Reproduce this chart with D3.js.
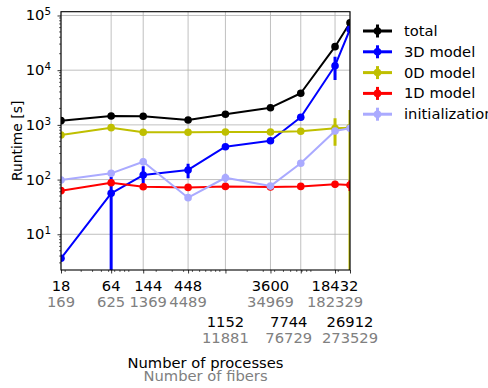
<!DOCTYPE html>
<html>
<head>
<meta charset="utf-8">
<script src="https://cdn.jsdelivr.net/npm/d3@7"></script>
<style>
  html, body { margin: 0; padding: 0; background: #fff; }
  svg { display: block; font-family: "DejaVu Sans", sans-serif; }
</style>
</head>
<body>
<svg id="chart" width="488" height="388"></svg>
<script>
// Scaling study: number of processes (and fibers) vs. runtime per component
const processes = [18, 64, 144, 448, 1152, 3600, 7744, 18432, 26912];
const fibers = [169, 625, 1369, 4489, 11881, 34969, 76729, 182329, 273529];
// tick labels that go on the lower second row
const lowerRow = [1152, 7744, 26912];

const seriesNames = ["total", "3D model", "0D model", "1D model", "initialization"];
const seriesColors = ["#000000", "#0000ff", "#bfbf00", "#ff0000", "#aaaaff"];

const totalValues = [1194, 1456, 1440, 1230, 1563, 2060, 3785, 26900, 73800];
const totalErr    = [0, 0, 0, 0, 0, 0, 0, 0, 0];
const model3dValues = [3.64, 56, 121, 150, 399, 514, 1377, 12080, 56000];
const model3dErr    = [0, 57, 55, 44, 0, 0, 0, 5500, 0];
const model0dValues = [653, 889, 733, 733, 741, 741, 764, 867, 889];
const model0dErr    = [0, 0, 0, 0, 0, 0, 0, 450, 980];
const model1dValues = [62.7, 87.7, 74, 72, 75, 73, 75, 82, 79.6];
const model1dErr    = [0, 0, 0, 0, 0, 0, 0, 10, 18];
const initValues = [98, 130, 212, 46.7, 108, 76, 199, 773, 867];
const initErr    = [0, 0, 30, 0, 20, 0, 0, 0, 0];

const seriesValues = [totalValues, model3dValues, model0dValues, model1dValues, initValues];
const seriesErrors = [totalErr, model3dErr, model0dErr, model1dErr, initErr];

const yTickValues = [1e1, 1e2, 1e3, 1e4, 1e5];

const svg = d3.select("#chart");
const plotLeft = 61, plotRight = 350, plotTop = 11.7, plotBottom = 270;
const fontSize = 13.9;
const stretchX = 1.06;  // text is set slightly wide
// small horizontal shifts that keep crowded tick labels apart
const labelNudge = { 144: 5, 7744: -12 };

function addText(px, py, str, anchor, color, rotate) {
  const rot = rotate ? ` rotate(${rotate})` : "";
  const sc = rotate ? `scale(1,${stretchX})` : `scale(${stretchX},1)`;
  return svg.append("text")
    .attr("transform", `translate(${px},${py})${rot} ${sc}`)
    .attr("text-anchor", anchor).attr("font-size", fontSize).attr("fill", color)
    .text(str);
}

const x = d3.scaleLog().domain([18, 26912]).range([plotLeft, plotRight]);
const y = d3.scaleLog().domain([Math.pow(10, 0.347), Math.pow(10, 5.069)]).range([plotBottom, plotTop]);

svg.append("defs").append("clipPath").attr("id", "plotClip")
  .append("rect").attr("x", plotLeft).attr("y", plotTop)
  .attr("width", plotRight - plotLeft).attr("height", plotBottom - plotTop);

// grid
const grid = svg.append("g").attr("stroke", "#b0b0b0").attr("stroke-width", 0.8);
processes.forEach(p => {
  grid.append("line").attr("x1", x(p)).attr("x2", x(p)).attr("y1", plotTop).attr("y2", plotBottom);
});
yTickValues.forEach(v => {
  grid.append("line").attr("x1", plotLeft).attr("x2", plotRight).attr("y1", y(v)).attr("y2", y(v));
});

// series: error bars, lines, markers
const plot = svg.append("g").attr("clip-path", "url(#plotClip)");
const line = d3.line().x((d, i) => x(processes[i])).y(d => y(d));
seriesValues.forEach((vals, si) => {
  const color = seriesColors[si];
  const errs = seriesErrors[si];
  const g = plot.append("g");
  vals.forEach((v, i) => {
    const e = errs[i];
    if (!e) return;
    const lo = v - e;
    const y1 = lo > 0 ? y(lo) : plotBottom + 5;
    g.append("line")
      .attr("x1", x(processes[i])).attr("x2", x(processes[i]))
      .attr("y1", y1).attr("y2", y(v + e))
      .attr("stroke", color).attr("stroke-width", 3);
  });
  g.append("path").datum(vals).attr("d", line)
    .attr("fill", "none").attr("stroke", color).attr("stroke-width", 2)
    .attr("stroke-linejoin", "round");
  g.selectAll("circle").data(vals).join("circle")
    .attr("cx", (d, i) => x(processes[i])).attr("cy", d => y(d))
    .attr("r", 3.8).attr("fill", color);
});

// spines
svg.append("rect").attr("x", plotLeft).attr("y", plotTop)
  .attr("width", plotRight - plotLeft).attr("height", plotBottom - plotTop)
  .attr("fill", "none").attr("stroke", "#000").attr("stroke-width", 1.1);

// y axis
const yAxis = svg.append("g").attr("transform", `translate(${plotLeft},0)`)
  .call(d3.axisLeft(y).tickValues(yTickValues).tickSize(3.5).tickFormat(""));
yAxis.select(".domain").remove();
yAxis.selectAll(".tick line").attr("stroke", "#000").attr("stroke-width", 0.8);
const yMinor = [];
for (let k = 0; k <= 5; k++) for (let m = 2; m <= 9; m++) {
  const v = m * Math.pow(10, k);
  if (v >= y.domain()[0] && v <= y.domain()[1]) yMinor.push(v);
}
svg.append("g").selectAll("line").data(yMinor).join("line")
  .attr("x1", plotLeft - 2).attr("x2", plotLeft).attr("y1", d => y(d)).attr("y2", d => y(d))
  .attr("stroke", "#000").attr("stroke-width", 0.6);
yTickValues.forEach(v => {
  const t = addText(51, y(v) + 5, "", "end", "#000");
  t.append("tspan").text("10");
  t.append("tspan").attr("dy", "-0.55em").attr("font-size", fontSize * 0.7)
    .text(String(Math.round(Math.log10(v))));
});

// x axis
const xAxis = svg.append("g").attr("transform", `translate(0,${plotBottom})`)
  .call(d3.axisBottom(x).tickValues(processes).tickSize(3.5).tickFormat(""));
xAxis.select(".domain").remove();
xAxis.selectAll(".tick line").attr("stroke", "#000").attr("stroke-width", 0.8);
const xMinor = [];
for (let k = 1; k <= 4; k++) for (let m = 1; m <= 9; m++) {
  const v = m * Math.pow(10, k);
  if (v > 18 && v < 26912) xMinor.push(v);
}
svg.append("g").selectAll("line").data(xMinor).join("line")
  .attr("x1", d => x(d)).attr("x2", d => x(d)).attr("y1", plotBottom).attr("y2", plotBottom + 2)
  .attr("stroke", "#000").attr("stroke-width", 0.6);

processes.forEach((p, i) => {
  const off = lowerRow.includes(p) ? 36 : 0;
  const lx = x(p) + (labelNudge[p] || 0);
  addText(lx, 291 + off, p, "middle", "#000");
  addText(lx, 306.5 + off, fibers[i], "middle", "#808080");
});

// axis titles
const cx = (plotLeft + plotRight) / 2;
addText(cx, 368, "Number of processes", "middle", "#000");
addText(cx, 381, "Number of fibers", "middle", "#808080");
addText(22, (plotTop + plotBottom) / 2, "Runtime [s]", "middle", "#000", -90);

// legend
const legend = svg.append("g");
seriesNames.forEach((name, i) => {
  const ly = 31 + i * 20.8;
  const c = seriesColors[i];
  legend.append("line").attr("x1", 363).attr("x2", 392).attr("y1", ly).attr("y2", ly)
    .attr("stroke", c).attr("stroke-width", 3);
  legend.append("line").attr("x1", 377.5).attr("x2", 377.5).attr("y1", ly - 6.5).attr("y2", ly + 6.5)
    .attr("stroke", c).attr("stroke-width", 3);
  legend.append("circle").attr("cx", 377.5).attr("cy", ly).attr("r", 3.8).attr("fill", c);
  addText(404, ly + 5, name, "start", "#000");
});
</script>
</body>
</html>
